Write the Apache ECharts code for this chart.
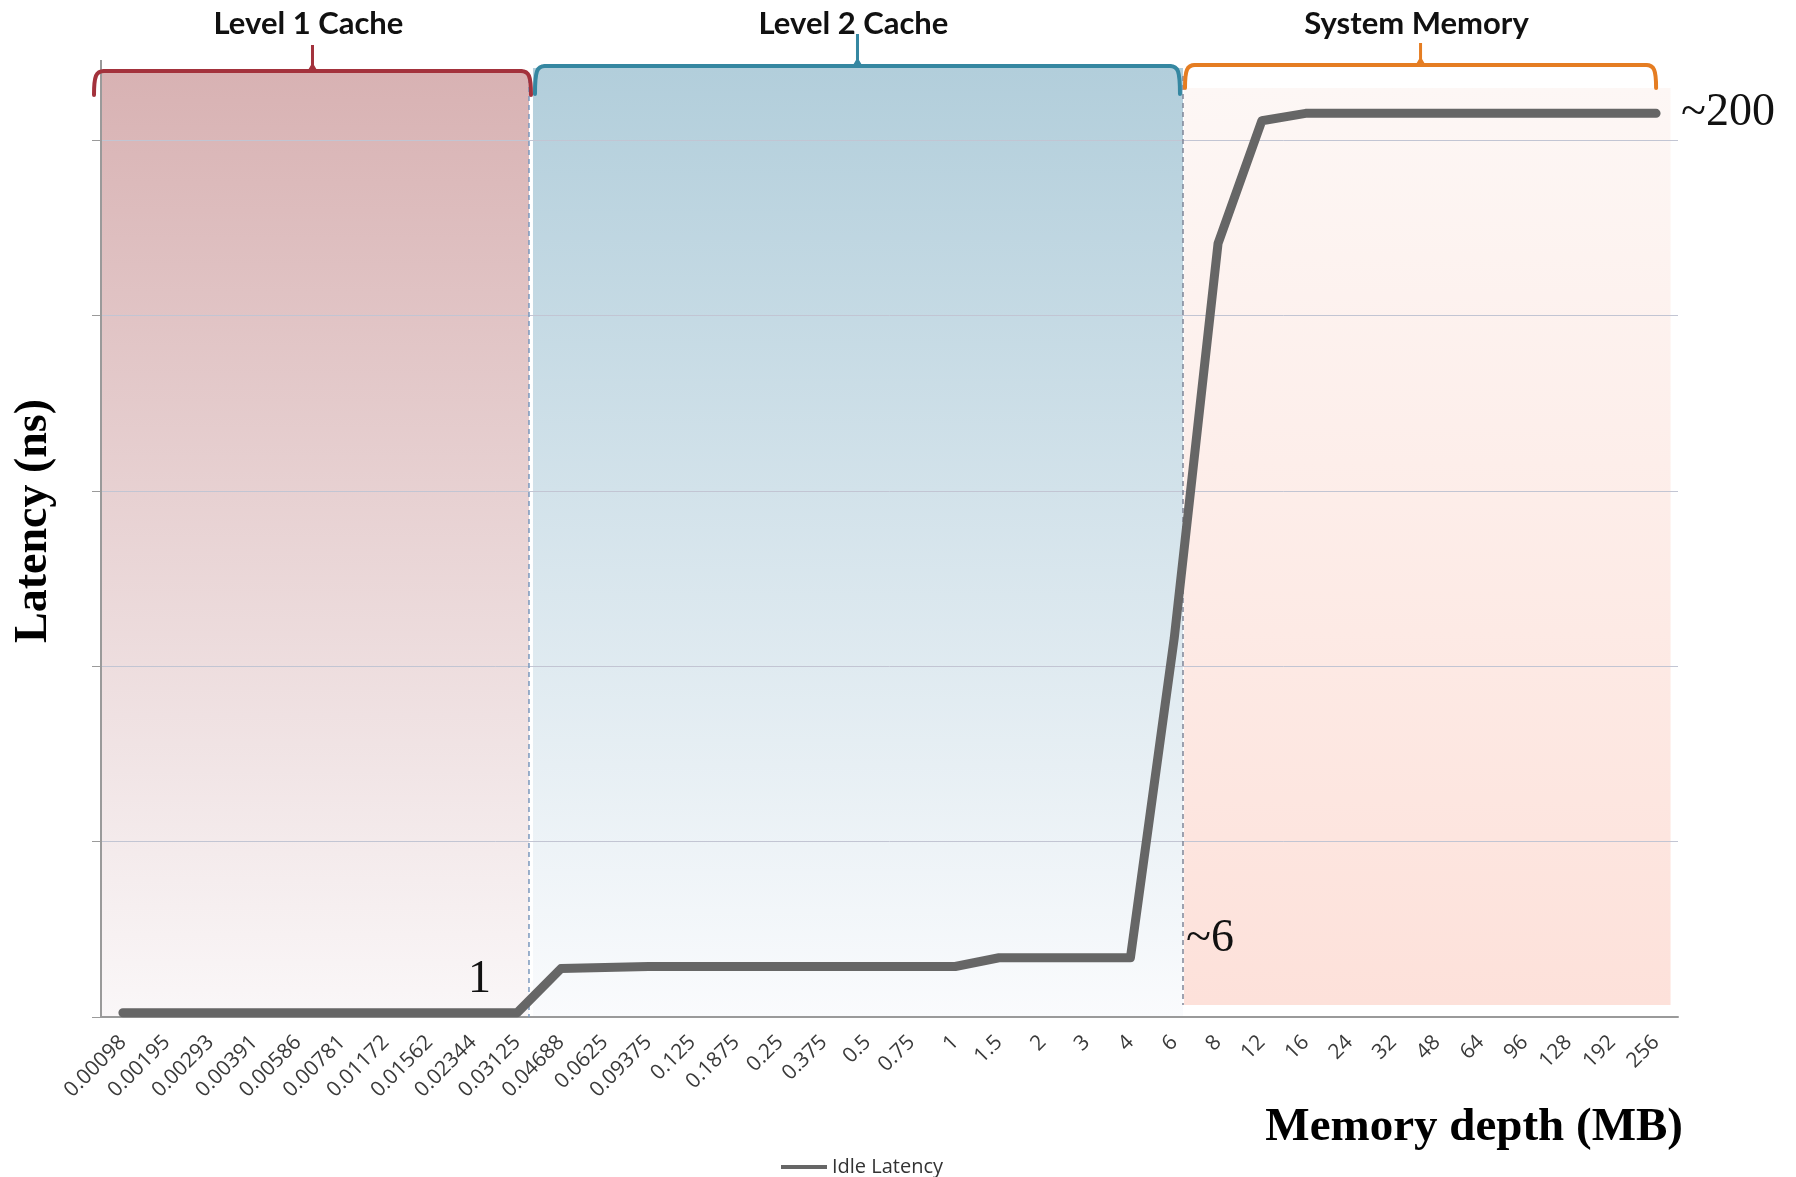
<!DOCTYPE html>
<html><head><meta charset="utf-8">
<script src="https://cdn.jsdelivr.net/npm/echarts@6/dist/echarts.min.js"></script>
<style>html,body{margin:0;padding:0;background:#fff}#c{width:1796px;height:1177px}</style>
</head><body><div id="c"></div>
<script>
// ---- data ----
const categories = ['0.00098','0.00195','0.00293','0.00391','0.00586','0.00781','0.01172','0.01562','0.02344','0.03125',
  '0.04688','0.0625','0.09375','0.125','0.1875','0.25','0.375','0.5','0.75','1',
  '1.5','2','3','4','6','8','12','16','24','32','48','64','96','128','192','256'];
const idleLatency = [1.2,1.2,1.2,1.2,1.2,1.2,1.2,1.2,1.2,1.2,
  13.8,14.1,14.4,14.4,14.4,14.4,14.4,14.4,14.4,14.4,
  16.9,16.9,16.9,16.9,108,220.5,255.5,257.6,257.6,257.6,257.6,257.6,257.6,257.6,257.6,257.6];
const seriesName = 'Idle Latency';
const levelNames = ['Level 1 Cache','Level 2 Cache','System Memory'];
const levelFirstCat = ['0.00098','0.04688','8'];
const levelLastCat = ['0.03125','6','256'];
const annotTexts = ['1','~6','~200'];
const annotCats = ['0.03125','4','256'];
const yMin = 0, yMax = 250, yStep = 50;

// ---- style / layout ----
const gridL = 101, gridR = 118, gridT = 140, gridB = 160;
const levelColors = ['#a3323c','#3587a1','#e57d22'];
const levelFills = [['#d8b2b3','#faf7f8'],['#b2cedb','#fafbfd'],['#fdf7f5','#fde1da']];

const chart = echarts.init(document.getElementById('c'));
const option = {
  backgroundColor:'#ffffff',
  animation:false,
  grid:{left:gridL,right:gridR,top:gridT,bottom:gridB},
  legend:{data:[seriesName],left:776,top:1152,icon:'rect',itemWidth:46,itemHeight:4,
    textStyle:{fontFamily:'Open Sans',fontSize:20,color:'#333'}},
  xAxis:{type:'category',data:categories,boundaryGap:true,
    axisLine:{lineStyle:{color:'#9a9a9a',width:2}},
    axisTick:{show:false},
    axisLabel:{interval:0,rotate:45,margin:22,fontFamily:'Open Sans',fontSize:21,color:'#3a3a3a'},
    splitLine:{show:false}},
  yAxis:{type:'value',min:yMin,max:yMax,interval:yStep,
    axisLine:{show:true,lineStyle:{color:'#9a9a9a',width:2}},
    axisTick:{show:true,length:9,lineStyle:{color:'#9a9a9a',width:1}},
    axisLabel:{show:false},
    splitLine:{lineStyle:{color:'#c2c5d3',width:1}}},
  series:[{name:seriesName,type:'line',data:idleLatency,symbol:'none',clip:false,z:10,
    color:'#666666',
    lineStyle:{color:'#666666',width:9,cap:'round',join:'round'}}]
};
chart.setOption(option);

function px(i,v){return chart.convertToPixel({gridIndex:0},[i,v]);}
const x0 = px(0,0)[0], step = px(1,0)[0]-x0;
const X = f => x0 + step*f;
const yAxisBottom = px(0,yMin)[1];
const idx = c => categories.indexOf(c);

const g = [];
g.push({type:'line',z:-1,shape:{x1:gridL,y1:60,x2:gridL,y2:gridT},style:{stroke:'#9a9a9a',lineWidth:2}});

const dash1 = X(idx(levelLastCat[0])+0.27);
const dash2 = X(idx(levelLastCat[1])+0.2);
const boxes = [
  {x1:X(idx(levelFirstCat[0])-0.5), x2:dash1, top:gridT-67, bot:yAxisBottom},
  {x1:dash1+4, x2:dash2, top:gridT-72, bot:yAxisBottom},
  {x1:dash2+1, x2:X(idx(levelLastCat[2])+0.33), top:gridT-52, bot:yAxisBottom-12}
];
const braces = [
  {xl:X(idx(levelFirstCat[0])-0.5)-7, xr:dash1+2, y:gridT-69, drop:24, tip:gridT-95},
  {xl:dash1+6, xr:dash2-3, y:gridT-74, drop:28, tip:gridT-106},
  {xl:dash2+2, xr:X(idx(levelLastCat[2])), y:gridT-75, drop:23, tip:gridT-97}
];
boxes.forEach((b,k)=>{
  g.push({type:'rect',z:-2,shape:{x:b.x1,y:b.top,width:b.x2-b.x1,height:b.bot-b.top},
    style:{fill:{type:'linear',x:0,y:0,x2:0,y2:1,colorStops:[{offset:0,color:levelFills[k][0]},{offset:1,color:levelFills[k][1]}]}}});
});
g.push({type:'line',z:1,shape:{x1:dash1,y1:gridT-62,x2:dash1,y2:yAxisBottom},style:{stroke:'#7b98bd',lineWidth:1.5,lineDash:[5,4]}});
g.push({type:'line',z:1,shape:{x1:dash2,y1:gridT-64,x2:dash2,y2:yAxisBottom-12},style:{stroke:'#7f8596',lineWidth:1.5,lineDash:[5,4]}});

braces.forEach((b,k)=>{
  const xc=(b.xl+b.xr)/2, r=10, col=levelColors[k];
  const st = {stroke:col,lineWidth:4,fill:null,lineCap:'round'};
  g.push({type:'bezierCurve',z:2,shape:{x1:b.xl,y1:b.y+b.drop,cpx1:b.xl,cpy1:b.y+5,cpx2:b.xl+2,cpy2:b.y,x2:b.xl+r,y2:b.y},style:st});
  g.push({type:'line',z:2,shape:{x1:b.xl+r,y1:b.y,x2:b.xr-r,y2:b.y},style:st});
  g.push({type:'bezierCurve',z:2,shape:{x1:b.xr,y1:b.y+b.drop,cpx1:b.xr,cpy1:b.y+5,cpx2:b.xr-2,cpy2:b.y,x2:b.xr-r,y2:b.y},style:st});
  g.push({type:'polygon',z:2,shape:{points:[[xc-5,b.y],[xc-1.5,b.y-6],[xc-1.5,b.tip],[xc+1.5,b.tip],[xc+1.5,b.y-6],[xc+5,b.y]]},style:{fill:col}});
  g.push({type:'text',z:3,x:xc-4,y:24,style:{text:levelNames[k],fontFamily:'Lato',fontWeight:'bold',fontSize:31,fill:'#111',align:'center',verticalAlign:'middle'}});
});

const a0 = px(idx(annotCats[0]), idleLatency[idx(annotCats[0])]);
g.push({type:'text',z:12,x:dash1-38,y:a0[1]-33,style:{text:annotTexts[0],fontFamily:'Liberation Serif',fontSize:46,fill:'#111',align:'right',verticalAlign:'middle'}});
const a1 = px(idx(annotCats[1]), idleLatency[idx(annotCats[1])]);
g.push({type:'text',z:12,x:dash2+3,y:a1[1]-19,style:{text:annotTexts[1],fontFamily:'Liberation Serif',fontSize:46,fill:'#111',align:'left',verticalAlign:'middle'}});
const a2 = px(idx(annotCats[2]), idleLatency[idx(annotCats[2])]);
g.push({type:'text',z:12,x:a2[0]+25,y:a2[1],style:{text:annotTexts[2],fontFamily:'Liberation Serif',fontSize:46,fill:'#111',align:'left',verticalAlign:'middle'}});

g.push({type:'text',z:12,x:34,y:521,rotation:Math.PI/2,style:{text:'Latency (ns)',fontFamily:'Liberation Serif',fontWeight:'bold',fontSize:46,fill:'#000',align:'center',verticalAlign:'middle'}});
g.push({type:'text',z:12,x:1683,y:1128,style:{text:'Memory depth (MB)',fontFamily:'Liberation Serif',fontWeight:'bold',fontSize:47,fill:'#000',align:'right',verticalAlign:'middle'}});

chart.setOption({graphic:{elements:g}});
</script></body></html>
